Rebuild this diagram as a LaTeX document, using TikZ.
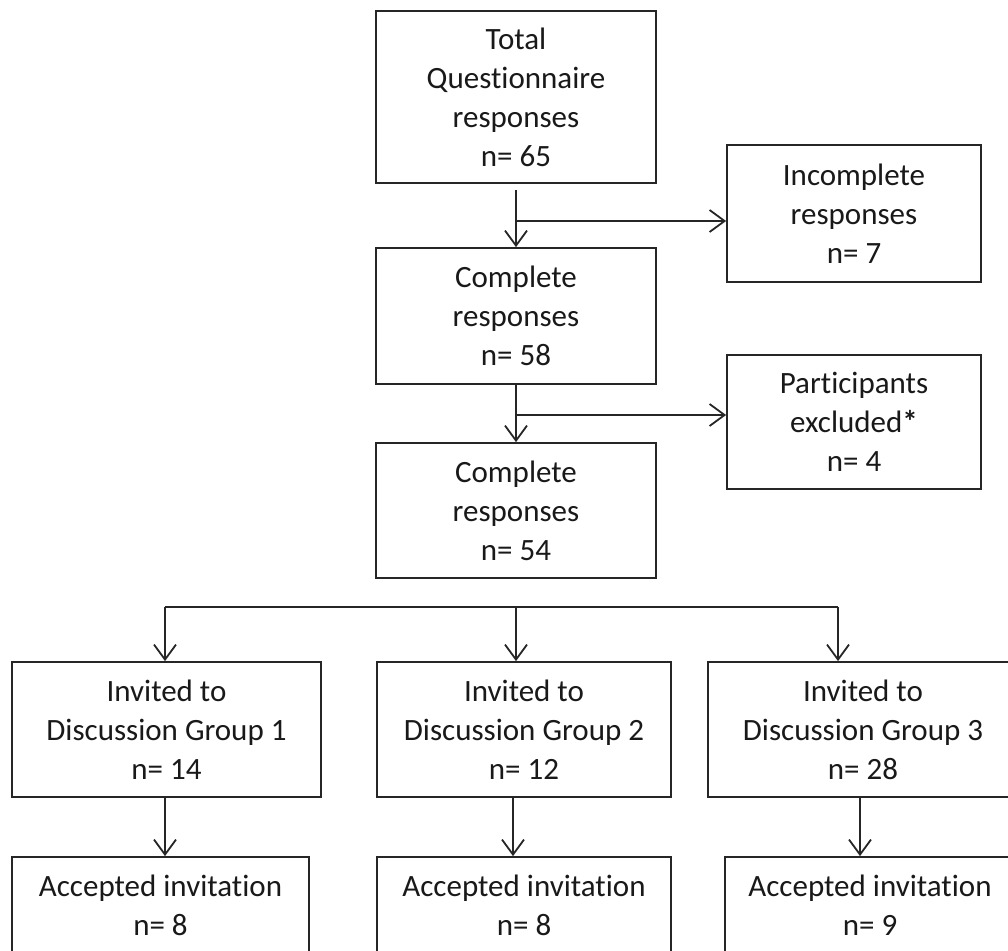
\documentclass[tikz,border=0pt]{standalone}
\usepackage{fontspec}
\setmainfont[RawFeature={-liga;-clig;-dlig;-calt}]{Carlito}
\usetikzlibrary{arrows.meta,calc}
\begin{document}
\begin{tikzpicture}[x=1pt,y=-1pt,
  box/.style={draw=black!85,line width=1.8pt,inner sep=0pt,align=center,
    font=\fontsize{31}{39}\selectfont,text=black!90},
  conn/.style={draw=black!85,line width=1.8pt},
  arr/.style={conn,-{Straight Barb[length=15pt,width=22pt,line width=1.8pt]}}]
\useasboundingbox (0,0) rectangle (1008,950);
\fill[white] (0,0) rectangle (1008,950);
\node[box,minimum width=280pt,minimum height=172pt] (top) at (516,97)
  {Total\\Questionnaire\\responses\\n= 65};
\node[box,minimum width=254pt,minimum height=137pt] (inc) at (854,213.5)
  {Incomplete\\responses\\n= 7};
\node[box,minimum width=280pt,minimum height=136pt] (c58) at (516,316)
  {Complete\\responses\\n= 58};
\node[box,minimum width=254pt,minimum height=134pt] (exc) at (854,422)
  {Participants\\excluded\textbf{*}\\n= 4};
\node[box,minimum width=280pt,minimum height=135pt] (c54) at (516,510.5)
  {Complete\\responses\\n= 54};
\node[box,minimum width=309pt,minimum height=135pt] (g1) at (166.5,729.5)
  {Invited to\\Discussion Group 1\\n= 14};
\node[box,minimum width=294pt,minimum height=135pt] (g2) at (524,729.5)
  {Invited to\\Discussion Group 2\\n= 12};
\node[box,minimum width=310pt,minimum height=135pt] (g3) at (863,729.5)
  {Invited to\\Discussion Group 3\\n= 28};
\node[box,minimum width=297pt,minimum height=147pt] (a1) at (160.5,930.5)
  {Accepted invitation\\n= 8\\\strut};
\node[box,minimum width=294pt,minimum height=147pt] (a2) at (524,930.5)
  {Accepted invitation\\n= 8\\\strut};
\node[box,minimum width=290pt,minimum height=147pt] (a3) at (870,930.5)
  {Accepted invitation\\n= 9\\\strut};
% top -> complete 58, branch to incomplete
\draw[arr,shorten <=6pt] (top.south) -- (c58.north);
\coordinate (b1) at (516,221);
\draw[arr] (b1) -- (b1 -| inc.west);
% complete 58 -> complete 54, branch to excluded
\draw[arr] (c58.south) -- (c54.north);
\coordinate (b2) at (516,415);
\draw[arr] (b2) -- (b2 -| exc.west);
% distributor
\coordinate (d1) at (165,607);
\coordinate (d2) at (516,607);
\coordinate (d3) at (838,607);
\draw[conn] (d1) -- (d3);
\draw[arr] (d1) -- (d1 |- g1.north);
\draw[arr] (d2) -- (d2 |- g2.north);
\draw[arr] (d3) -- (d3 |- g3.north);
% invited -> accepted
\coordinate (e1) at (165,0);
\coordinate (e2) at (513,0);
\coordinate (e3) at (860,0);
\draw[arr] (e1 |- g1.south) -- (e1 |- a1.north);
\draw[arr] (e2 |- g2.south) -- (e2 |- a2.north);
\draw[arr] (e3 |- g3.south) -- (e3 |- a3.north);
\end{tikzpicture}
\end{document}
